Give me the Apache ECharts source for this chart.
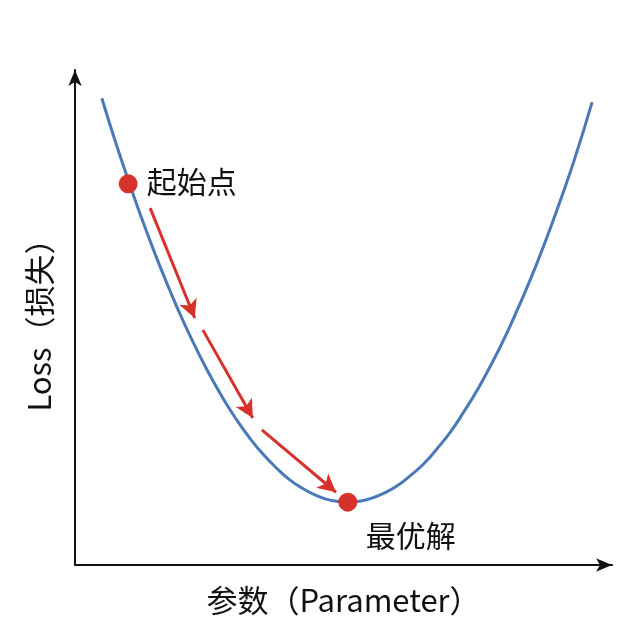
<!DOCTYPE html>
<html><head><meta charset="utf-8">
<script src="https://cdn.jsdelivr.net/npm/echarts@6/dist/echarts.min.js"></script>
<style>html,body{margin:0;background:#fff}#main{width:640px;height:640px}</style>
</head><body><div id="main"></div>
<script>
// loss curve (x: parameter, y: loss, both 0..100)
var curveX = [5, 7.5, 10, 12.5, 15, 17.5, 20, 22.5, 25, 27.5, 30, 32.5, 35, 37.5, 40, 42.5, 45, 47.5, 50.8, 53, 55, 57.5, 60, 62.5, 65, 67.5, 70, 72.5, 75, 77.5, 80, 82.5, 85, 87.5, 90, 93, 96.3];
var curveY = [94.3, 85.6, 77.5, 69.8, 62.6, 55.9, 49.6, 43.9, 38.6, 33.8, 29.5, 25.7, 22.4, 19.6, 17.2, 15.4, 14.0, 13.1, 12.7, 12.9, 13.4, 14.5, 16.0, 18.1, 20.5, 23.6, 27.0, 31.1, 35.5, 40.5, 45.9, 51.9, 58.2, 65.1, 72.5, 81.9, 93.5];
var startPt = [9.9, 77.0];
var bestPt = [50.8, 12.7];
// gradient descent steps: [fromX, fromY, toX, toY]
var steps = [
  [14.0, 72.1, 22.3, 49.9],
  [23.8, 47.5, 33.1, 29.7],
  [34.8, 27.3, 48.6, 14.7]
];
var labels = ['起始点', '最优解'];

var font = '"Noto Sans CJK SC", "Noto Sans", sans-serif';
var red = '#d8312c';

var chart = echarts.init(document.getElementById('main'));
chart.setOption({
  animation: false,
  grid: {left: 75, right: 28, top: 70, bottom: 75},
  xAxis: {
    type: 'value', min: 0, max: 100,
    name: '参数（Parameter）', nameLocation: 'middle', nameGap: 20,
    nameTextStyle: {fontSize: 31, color: '#111', fontFamily: font},
    axisLine: {lineStyle: {color: '#111', width: 2}, symbol: ['none', 'arrow'], symbolSize: [10, 16]},
    axisTick: {show: false}, axisLabel: {show: false}, splitLine: {show: false}
  },
  yAxis: {
    type: 'value', min: 0, max: 100,
    name: 'Loss（损失）', nameLocation: 'middle', nameGap: 20,
    nameTextStyle: {fontSize: 31, color: '#111', fontFamily: font},
    axisLine: {show: true, lineStyle: {color: '#111', width: 2}, symbol: ['none', 'arrow'], symbolSize: [10, 16]},
    axisTick: {show: false}, axisLabel: {show: false}, splitLine: {show: false}
  },
  series: [
    {
      type: 'line', smooth: 0.5, showSymbol: false,
      data: curveX.map(function (x, i) { return [x, curveY[i]]; }),
      lineStyle: {color: '#4a79b8', width: 3}
    },
    {
      type: 'line', data: [],
      markLine: {
        silent: true, symbol: ['none', 'arrow'], symbolSize: [14, 18],
        lineStyle: {color: red, width: 3, type: 'solid'}, label: {show: false},
        data: steps.map(function (s) { return [{coord: [s[0], s[1]]}, {coord: [s[2], s[3]]}]; })
      }
    },
    {
      type: 'scatter', symbolSize: 19, z: 5,
      itemStyle: {color: red, opacity: 1},
      data: [startPt, bestPt].map(function (p, i) {
        return {
          value: p,
          label: {
            show: true, formatter: labels[i], fontSize: 30, color: '#111', fontFamily: font,
            position: i === 0 ? 'right' : 'bottom', distance: 9,
            offset: i === 0 ? [0, -2] : [63, 0]
          }
        };
      })
    }
  ]
});
</script></body></html>
